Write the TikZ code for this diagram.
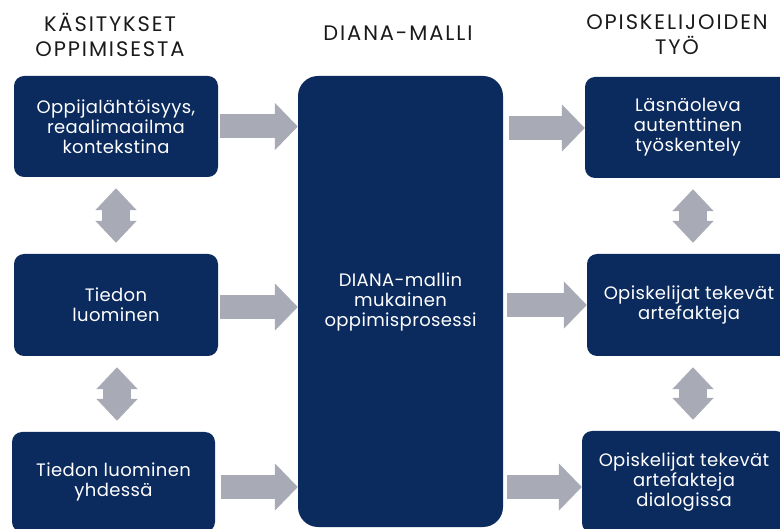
\documentclass[tikz,border=0pt]{standalone}
\usepackage{fontspec}
\setmainfont{Poppins}
\newfontfamily\headfont[LetterSpace=9]{Poppins}
\newfontfamily\boxfont[LetterSpace=2]{Poppins}
\usetikzlibrary{arrows.meta}
\definecolor{navy}{HTML}{0B2A5E}
\definecolor{arrowgray}{HTML}{A8AAB5}
\definecolor{headtext}{HTML}{1A1A1A}
\tikzset{
  box/.style={fill=navy, draw=none, rounded corners=10pt, text=white, align=center,
    font=\boxfont\fontsize{18}{20}\selectfont, inner sep=0pt},
  bigbox/.style={box, rounded corners=20pt},
  heading/.style={text=headtext, align=center, font=\headfont\fontsize{21}{25}\selectfont},
  flowarrow/.style={draw=arrowgray, line width=24pt, -{Triangle[width=46pt,length=23pt]}},
  linkarrow/.style={draw=arrowgray, line width=28pt,
    {Triangle[width=40pt,length=22pt]}-{Triangle[width=40pt,length=22pt]},
    shorten <=11pt, shorten >=11pt}
}
\begin{document}
\begin{tikzpicture}[x=1pt,y=-1pt]
\useasboundingbox (0,0) rectangle (780,529);
% headings
\node[heading] (h1) at (110,35) {KÄSITYKSET\\OPPIMISESTA};
\node[heading] (h2) at (398,33) {DIANA-MALLI};
\node[heading] (h3) at (677,35) {OPISKELIJOIDEN\\TYÖ};
% left boxes
\node[box, minimum width=204pt, minimum height=101pt] (l1) at (116,126.5) {Oppijalähtöisyys,\\reaalimaailma\\kontekstina};
\node[box, minimum width=204pt, minimum height=102pt] (l2) at (116,305) {Tiedon\\luominen};
\node[box, minimum width=203pt, minimum height=100pt] (l3) at (113.5,482) {Tiedon luominen\\yhdessä};
% middle box
\node[bigbox, minimum width=205pt, minimum height=451pt] (m) at (400.5,301.5) {DIANA-mallin\\mukainen\\oppimisprosessi};
% right boxes
\node[box, minimum width=206pt, minimum height=101pt] (r1) at (688,127.5) {Läsnäoleva\\autenttinen\\työskentely};
\node[box, minimum width=204pt, minimum height=102pt] (r2) at (689,305) {Opiskelijat tekevät\\artefakteja};
\node[box, minimum width=204pt, minimum height=102pt] (r3) at (684,482) {Opiskelijat tekevät\\artefakteja\\dialogissa};
% flow arrows
\draw[flowarrow, shorten <=2pt] (l1.east) -- (l1.east -| m.west);
\draw[flowarrow, shorten <=2pt] ([yshift=-2pt]l2.east) -- ([yshift=-2pt]l2.east -| m.west);
\draw[flowarrow, shorten <=6pt] ([yshift=-5pt]l3.east) -- ([yshift=-5pt]l3.east -| m.west);
\coordinate (ra1) at (m.east |- 0,128);
\coordinate (ra2) at (m.east |- 0,305);
\coordinate (ra3) at (m.east |- 0,487);
\draw[flowarrow, shorten <=6pt] (ra1) -- (ra1 -| r1.west);
\draw[flowarrow, shorten <=4pt] (ra2) -- (ra2 -| r2.west);
\draw[flowarrow, shorten <=4pt] (ra3) -- (ra3 -| r3.west);
% link arrows
\draw[linkarrow] (l1.south) -- (l2.north);
\draw[linkarrow] ([xshift=1pt]l2.south) -- ([xshift=1pt]l2.south |- l3.north);
\coordinate (rx) at (693,0);
\draw[linkarrow] (rx |- r1.south) -- (rx |- r2.north);
\draw[linkarrow] (rx |- r2.south) -- (rx |- r3.north);
\end{tikzpicture}
\end{document}
